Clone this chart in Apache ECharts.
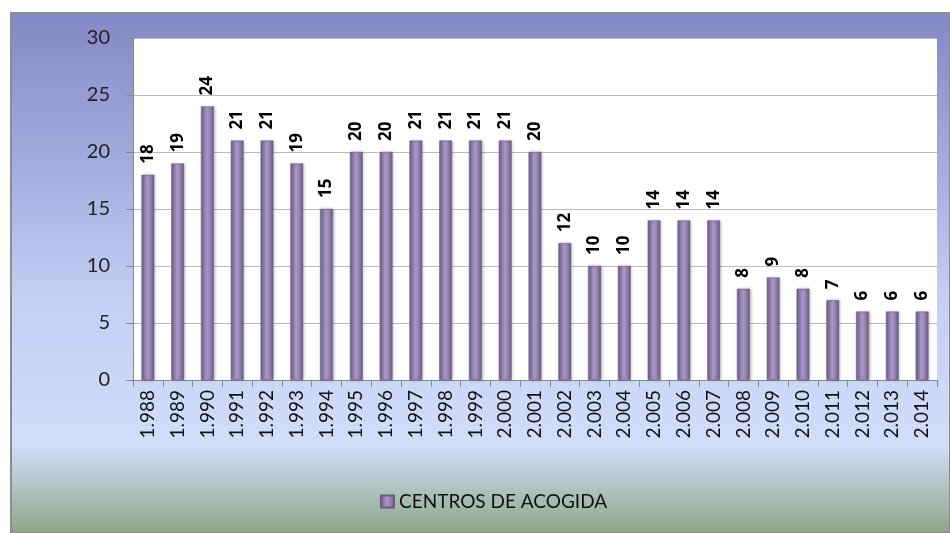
<!DOCTYPE html>
<html><head><meta charset="utf-8">
<script src="https://cdn.jsdelivr.net/npm/echarts@6/dist/echarts.min.js"></script>
<style>html,body{margin:0;padding:0;background:#fff}#c{width:950px;height:533px}</style>
</head><body><div id="c"></div>
<script>
const categories = ["1.988","1.989","1.990","1.991","1.992","1.993","1.994","1.995","1.996","1.997","1.998","1.999","2.000","2.001","2.002","2.003","2.004","2.005","2.006","2.007","2.008","2.009","2.010","2.011","2.012","2.013","2.014"];
const centros = [18,19,24,21,21,19,15,20,20,21,21,21,21,20,12,10,10,14,14,14,8,9,8,7,6,6,6];
const seriesName = "CENTROS DE ACOGIDA";
const yTicks = {min:0, max:30, interval:5};

const chart = echarts.init(document.getElementById('c'), null, {renderer:'canvas'});
const FONT = 'Lato, "Open Sans", "DejaVu Sans", sans-serif';
const BOLDFONT = '"Open Sans", "DejaVu Sans", sans-serif';
const barGrad = new echarts.graphic.LinearGradient(0,0,1,0,[
  {offset:0,color:'#6c5d88'},{offset:0.45,color:'#a996c6'},{offset:0.6,color:'#a08dbd'},{offset:1,color:'#6a5b86'}]);
chart.setOption({
  animation:false,
  graphic:[{type:'rect', z:-10, silent:true, shape:{x:11,y:13,width:939,height:520},
    style:{stroke:'#8c8c8c', lineWidth:2,
      fill:new echarts.graphic.LinearGradient(0,0,0,1,[
        {offset:0,color:'#8488c4'},{offset:0.3,color:'#a4addf'},{offset:0.55,color:'#c3cff5'},
        {offset:0.83,color:'#d2ddfa'},{offset:1,color:'#8ea685'}])}}],
  grid:{left:133,right:13,top:38,bottom:153,show:true,backgroundColor:'#fff',borderWidth:0},
  legend:{bottom:17,left:375,itemWidth:13,itemHeight:12,itemGap:5,
    textStyle:{fontFamily:FONT,fontSize:19,color:'#111'},
    data:[{name:seriesName,icon:'rect'}]},
  xAxis:{type:'category',data:categories,
    axisLine:{lineStyle:{color:'#888'}},
    axisTick:{show:true,alignWithLabel:false,length:7,lineStyle:{color:'#888'}},
    axisLabel:{rotate:90,interval:0,fontFamily:FONT,fontSize:19,color:'#111',margin:10}},
  yAxis:{type:'value',min:yTicks.min,max:yTicks.max,interval:yTicks.interval,
    axisLine:{show:true,lineStyle:{color:'#888'}},
    axisTick:{show:true,length:7,lineStyle:{color:'#888'}},
    splitLine:{lineStyle:{color:'#bbb'}},
    axisLabel:{fontFamily:FONT,fontSize:20,color:'#222',margin:23}},
  series:[{name:seriesName,type:'bar',data:centros,barWidth:'43%',
    itemStyle:{color:barGrad,borderColor:'#6a5b80',borderWidth:0.5,
      shadowColor:'rgba(0,0,0,0.25)',shadowBlur:3,shadowOffsetX:1},
    label:{show:true,position:'top',rotate:90,align:'left',verticalAlign:'middle',distance:11,
      fontFamily:BOLDFONT,fontSize:17,fontWeight:'bold',color:'#000'}}]
});
</script></body></html>
